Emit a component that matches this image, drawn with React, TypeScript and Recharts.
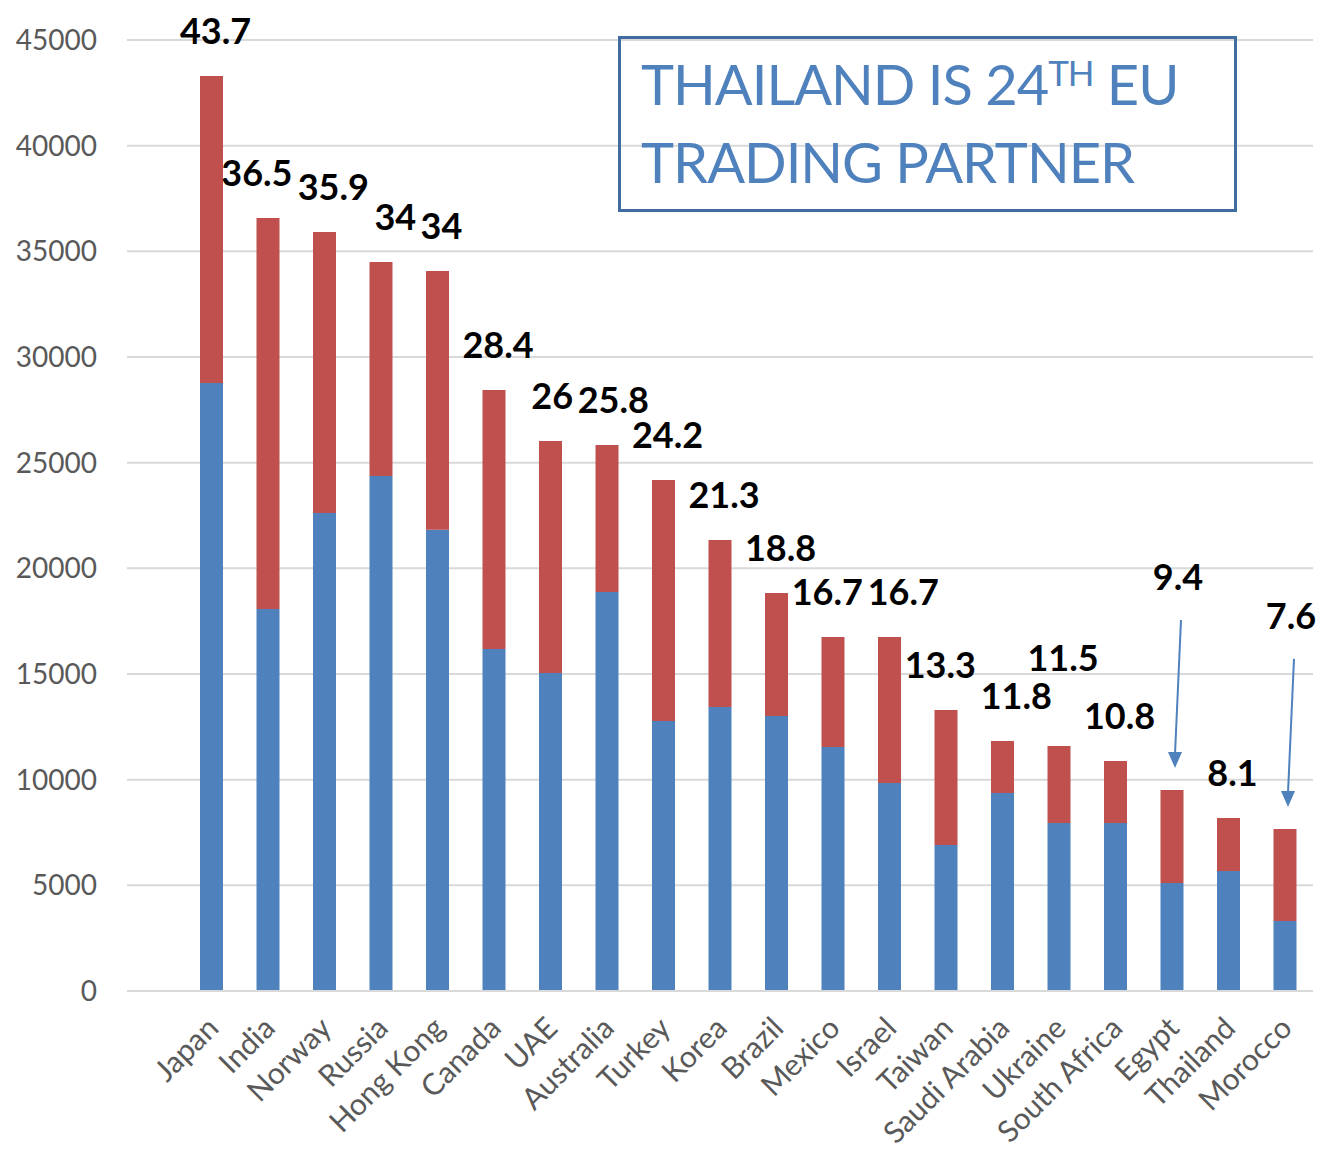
import React from "react";
import { BarChart, Bar, XAxis, YAxis, CartesianGrid, LabelList } from "recharts";

const countries = [
  "Japan", "India", "Norway", "Russia", "Hong Kong", "Canada", "UAE", "Australia",
  "Turkey", "Korea", "Brazil", "Mexico", "Israel", "Taiwan", "Saudi Arabia",
  "Ukraine", "South Africa", "Egypt", "Thailand", "Morocco",
];
// lower (blue) segment and bar total
const lowerPart = [
  28770, 18080, 22620, 24370, 21820, 16180, 15050, 18880, 12780, 13440,
  13010, 11550, 9840, 6910, 9370, 7950, 7950, 5110, 5680, 3310,
];
const totals = [
  43300, 36580, 35920, 34500, 34070, 28440, 26030, 25840, 24180, 21340,
  18830, 16750, 16750, 13300, 11830, 11590, 10880, 9510, 8190, 7670,
];
const totalLabels = [
  "43.7", "36.5", "35.9", "34", "34", "28.4", "26", "25.8", "24.2", "21.3",
  "18.8", "16.7", "16.7", "13.3", "11.8", "11.5", "10.8", "9.4", "8.1", "7.6",
];
const arrowed = ["Egypt", "Morocco"];
const yTicks = [0, 5000, 10000, 15000, 20000, 25000, 30000, 35000, 40000, 45000];

const data = countries.map((name, i) => ({
  name,
  lower: lowerPart[i],
  upper: totals[i] - lowerPart[i],
  label: totalLabels[i],
}));

const BLUE = "#4f81bd";
const RED = "#c0504d";
const FONT = "Lato, 'Open Sans', sans-serif";

// chart geometry, used only to keep the value labels from running into each other
const W = 1327;
const H = 1152;
const PLOT_TOP = 40;
const PLOT_BOTTOM = 991;
const PLOT_LEFT = 127 + 56;
const PLOT_RIGHT = W - 14;
const Y_MAX = 45000;

const labelWidth = (s: string) => s.split("").reduce((w, ch) => w + (ch === "." ? 9 : 21), 0);

const labelLayout = (() => {
  const k = (PLOT_BOTTOM - PLOT_TOP) / Y_MAX;
  const band = (PLOT_RIGHT - PLOT_LEFT) / countries.length;
  const items = totals.map((t, i) => {
    const top = PLOT_BOTTOM - t * k;
    const center = PLOT_LEFT + (i + 0.5) * band;
    const arrow = arrowed.includes(countries[i]);
    return {
      center,
      top,
      cx: center + (arrow ? 6 : 4),
      cy: top - (arrow ? 213 : 45),
      w: labelWidth(totalLabels[i]),
    };
  });
  const overlap = (a: any, b: any) =>
    Math.abs(a.cy - b.cy) < 34 ? a.w / 2 + b.w / 2 + 4 - (b.cx - a.cx) : 0;
  // first pass: small clashes slide apart, big ones lift the right-hand label
  for (let i = 1; i < items.length; i++) {
    const a = items[i - 1];
    const b = items[i];
    const ov = overlap(a, b);
    if (ov <= 0) continue;
    if (ov <= 24) {
      a.cx -= ov / 2;
      b.cx += ov / 2;
    } else {
      b.cy = a.cy - 38;
    }
  }
  // a few relaxation passes for the slides
  for (let pass = 0; pass < 8; pass++) {
    for (let i = 1; i < items.length; i++) {
      const ov = overlap(items[i - 1], items[i]);
      if (ov > 0) {
        items[i - 1].cx -= ov / 2 + 0.5;
        items[i].cx += ov / 2 + 0.5;
      }
    }
  }
  return items.map((o) => ({ dx: o.cx - o.center, dy: o.cy - o.top }));
})();

const TotalLabel = (props: any) => {
  const { x, y, width, index } = props;
  const cx = x + width / 2;
  const { dx, dy } = labelLayout[index];
  const text = totalLabels[index];
  const label = (
    <text x={cx + dx} y={y + dy + 13} textAnchor="middle" fontFamily={FONT} fontWeight={700} fontSize={36} fill="#000">
      {text}
    </text>
  );
  if (arrowed.includes(countries[index])) {
    return (
      <g>
        {label}
        <line x1={cx + 9} y1={y - 170} x2={cx + 3} y2={y - 36} stroke={BLUE} strokeWidth={2} />
        <path d={`M ${cx - 4} ${y - 38} L ${cx + 10} ${y - 38} L ${cx + 3} ${y - 22} Z`} fill={BLUE} />
      </g>
    );
  }
  return label;
};

const CountryTick = (props: any) => {
  const { x, y, payload } = props;
  return (
    <text
      x={x + 9}
      y={y + 31}
      textAnchor="end"
      transform={`rotate(-45, ${x + 9}, ${y + 31})`}
      fontFamily={FONT}
      fontSize={30}
      fill="#595959"
    >
      {payload.value}
    </text>
  );
};

export default function App() {
  return (
    <div style={{ position: "absolute", left: 0, top: 0, width: W, height: H, background: "#fff" }}>
      <BarChart width={W} height={H} data={data} margin={{ top: PLOT_TOP, right: 14, left: 0, bottom: 0 }}>
        <CartesianGrid vertical={false} stroke="#d9d9d9" strokeWidth={2} />
        <XAxis
          dataKey="name"
          height={H - PLOT_BOTTOM}
          padding={{ left: 56, right: 0 }}
          interval={0}
          tickLine={false}
          axisLine={{ stroke: "#d9d9d9", strokeWidth: 2 }}
          tick={<CountryTick />}
        />
        <YAxis
          width={127}
          domain={[0, Y_MAX]}
          ticks={yTicks}
          axisLine={false}
          tickLine={false}
          tickSize={0}
          tickMargin={30}
          tick={{ fontFamily: FONT, fontSize: 28, fill: "#595959" }}
        />
        <Bar dataKey="lower" stackId="a" fill={BLUE} barSize={23} isAnimationActive={false} />
        <Bar dataKey="upper" stackId="a" fill={RED} barSize={23} isAnimationActive={false}>
          <LabelList dataKey="label" content={<TotalLabel />} />
        </Bar>
      </BarChart>
      <div
        style={{
          position: "absolute",
          left: 618,
          top: 36,
          width: 619,
          height: 176,
          boxSizing: "border-box",
          border: "3px solid #3f6d9f",
          fontFamily: FONT,
          fontSize: 56,
          letterSpacing: -1,
          lineHeight: "78px",
          color: BLUE,
          padding: "6px 0 0 20px",
          whiteSpace: "nowrap",
        }}
      >
        THAILAND IS 24
        <span style={{ fontSize: 35, lineHeight: 0, verticalAlign: 19 }}>TH</span> EU
        <br />
        TRADING PARTNER
      </div>
    </div>
  );
}
